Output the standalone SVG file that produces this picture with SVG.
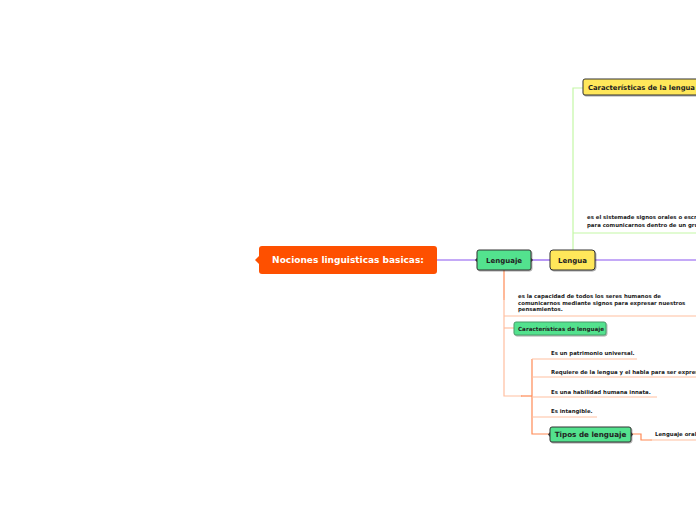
<svg xmlns="http://www.w3.org/2000/svg" width="696" height="520" viewBox="0 0 696 520">
<style>
text{font-family:"DejaVu Sans",Verdana,sans-serif;font-weight:bold;fill:#222}
.t{font-size:5.4px}
.n{font-size:7px;text-anchor:middle}
.box{stroke:#333;stroke-width:1}
.pu{stroke:#8a55f0;stroke-width:1.2;fill:none}
.gr{stroke:#c4f7a6;stroke-width:1.2;fill:none}
.or{stroke:#ffbfa0;stroke-width:1.2;fill:none}
.od{stroke:#ff8a55;stroke-width:1.2;fill:none}
</style>
<defs>
<filter id="sh" x="-20%" y="-20%" width="140%" height="160%"><feDropShadow dx="0.8" dy="1" stdDeviation="0.6" flood-color="#000" flood-opacity="0.35"/></filter>
</defs>
<rect width="696" height="520" fill="#fff"/>
<g id="connectors">
<path class="pu" d="M437 260H477"/>
<path class="pu" d="M531 260H550"/>
<path class="pu" d="M595 260H696"/>
<path class="gr" d="M573 250V88H583"/>
<path class="gr" d="M573 233H696"/>
<path class="od" d="M504 270V300"/>
<path class="or" d="M504 298V396H522"/>
<path class="or" d="M504 316H696"/>
<path class="or" d="M504 328H514"/>
<path class="od" d="M521 396H532"/>
<path class="od" d="M532 359V434H550"/>
<path class="or" d="M532 359H637"/>
<path class="or" d="M532 377H696"/>
<path class="or" d="M532 397H657"/>
<path class="or" d="M532 417H597"/>
<path class="od" d="M632 434H641V440H652"/>
<path class="or" d="M650 440H696"/>
</g>
<g id="root">
<rect x="259" y="246" width="178" height="28" rx="3" fill="#fe5000"/>
<path d="M259 256L255 260L259 264Z" fill="#fe5000"/>
<text x="348" y="263.3" style="font-size:9px;text-anchor:middle;fill:#fff">Nociones linguisticas basicas:</text>
</g>
<g id="lenguaje">
<rect class="box" x="477" y="250" width="54" height="20" rx="2" fill="#52e28e" filter="url(#sh)"/>
<path d="M477 258L475 260L477 262Z M531 258L533 260L531 262Z" fill="#333"/>
<text class="n" x="504" y="262.5">Lenguaje</text>
</g>
<g id="lengua">
<rect class="box" x="550" y="250" width="45" height="20" rx="3" fill="#ffe75a" filter="url(#sh)"/>
<text class="n" x="572.5" y="262.5">Lengua</text>
</g>
<g id="caract-lengua">
<rect class="box" x="583" y="79" width="120" height="16" rx="2" fill="#ffe75a" filter="url(#sh)"/>
<text x="588" y="89.8" style="font-size:6.8px">Características de la lengua</text>
</g>
<g id="def-lengua">
<text class="t" x="587" y="219">es el sistemade signos orales o escritos</text>
<text class="t" x="587" y="227">para comunicarnos dentro de un grupo</text>
</g>
<g id="def-lenguaje">
<text class="t" x="518" y="298">es la capacidad de todos los seres humanos de</text>
<text class="t" x="518" y="304.5">comunicarnos mediante signos para expresar nuestros</text>
<text class="t" x="518" y="311">pensamientos.</text>
</g>
<g id="caract-lenguaje">
<rect x="514" y="322" width="92" height="13" rx="2" fill="#52e28e" stroke="#4a9a6a" stroke-width="1" filter="url(#sh)"/>
<text x="518" y="330.5" style="font-size:5.6px">Características de lenguaje</text>
</g>
<g id="item1"><text class="t" x="551" y="355">Es un patrimonio universal.</text></g>
<g id="item2"><text class="t" x="551" y="374">Requiere de la lengua y el habla para ser expresado.</text></g>
<g id="item3"><text class="t" x="551" y="394">Es una habilidad humana innata.</text></g>
<g id="item4"><text class="t" x="551" y="413">Es intangible.</text></g>
<g id="tipos">
<rect class="box" x="550" y="427" width="81" height="15" rx="2" fill="#52e28e" filter="url(#sh)"/>
<path d="M550 432L548 434.5L550 437Z M631 432L633 434.5L631 437Z" fill="#333"/>
<text x="590.5" y="437.3" style="font-size:7.2px;text-anchor:middle">Tipos de lenguaje</text>
</g>
<g id="oral"><text class="t" x="655" y="436">Lenguaje oral</text></g>
</svg>
